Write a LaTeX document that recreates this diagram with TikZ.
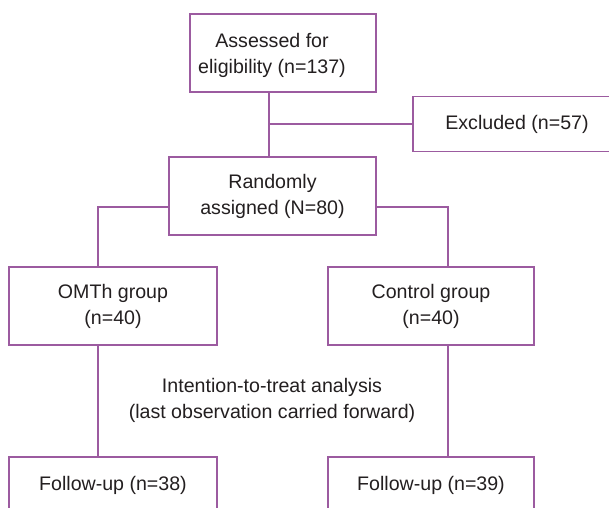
\documentclass[tikz,border=0pt]{standalone}
\usepackage{fontspec}
\setmainfont{Liberation Sans}
\definecolor{boxline}{RGB}{156,91,160}
\definecolor{txt}{RGB}{35,31,32}
\begin{document}
\begin{tikzpicture}[x=1pt,y=-1pt,
  box/.style={draw=boxline,line width=1.5pt,rectangle,inner sep=0pt,fill=white},
  lbl/.style={text=txt,align=center,inner sep=0pt,font=\fontsize{19.6}{26}\selectfont},
  conn/.style={draw=boxline,line width=1.5pt}]
\useasboundingbox[fill=white] (0,0) rectangle (609,507);
% boxes
\node[box,minimum width=186pt,minimum height=78pt] (A) at (283,53) {};
\node[lbl] (At) at (272,55) {Assessed for\\eligibility (n=137)};
\node[box,minimum width=208pt,minimum height=55pt] (Ex) at (517,124) {};
\node[lbl] (Ext) at (517,124) {Excluded (n=57)};
\node[box,minimum width=207pt,minimum height=78pt,lbl] (B) at (272.5,196) {Randomly\\assigned (N=80)};
\node[box,minimum width=208pt,minimum height=78pt,lbl] (OM) at (113,306) {OMTh group\\(n=40)};
\node[box,minimum width=206pt,minimum height=78pt,lbl] (CG) at (431,306) {Control group\\(n=40)};
\node[box,minimum width=208pt,minimum height=56pt,lbl] (F1) at (113,485) {Follow-up (n=38)};
\node[box,minimum width=206pt,minimum height=56pt,lbl] (F2) at (431,485) {Follow-up (n=39)};
\node[lbl] (ITT) at (272,400) {Intention-to-treat analysis\\(last observation carried forward)};
% guide coordinates
\coordinate (ax) at (269,0);
\coordinate (by) at (0,207);
\coordinate (lx) at (98,0);
\coordinate (rx) at (448,0);
% connectors
\draw[conn] (A.south -| ax) -- (B.north -| ax);
\draw[conn] (Ex.west) -- (Ex.west -| ax);
\draw[conn] (B.west |- by) -| (OM.north -| lx);
\draw[conn] (B.east |- by) -| (CG.north -| rx);
\draw[conn] (OM.south -| lx) -- (F1.north -| lx);
\draw[conn] (CG.south -| rx) -- (F2.north -| rx);
\end{tikzpicture}
\end{document}
